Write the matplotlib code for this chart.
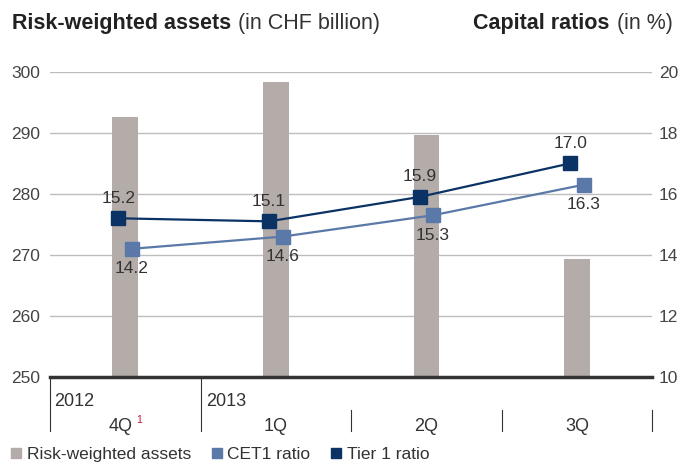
import matplotlib.pyplot as plt
from matplotlib.lines import Line2D
import matplotlib.transforms as mtransforms

plt.rcParams['font.family'] = ['Liberation Sans', 'DejaVu Sans']

quarters = ['4Q', '1Q', '2Q', '3Q']
years = ['2012', '2013']
rwa = [292.6, 298.3, 289.6, 269.3]
cet1 = [14.2, 14.6, 15.3, 16.3]
tier1 = [15.2, 15.1, 15.9, 17.0]

bar_color = '#b3aca8'
cet1_color = '#5b79a8'
tier1_color = '#0b3264'
text_color = '#333333'

fig = plt.figure(figsize=(6.85, 4.67), dpi=100)
ax = fig.add_axes([0.073, 0.193, 0.879, 0.653])
ax2 = ax.twinx()

x = list(range(len(quarters)))
ax.bar(x, rwa, width=0.17, color=bar_color, zorder=2)
ax.set_ylim(250, 300)
ax.set_xlim(-0.5, 3.5)
ax.set_yticks([250, 260, 270, 280, 290, 300])
ax.yaxis.grid(True, color='#bdbdbd', linewidth=1.0, zorder=0)
ax.set_axisbelow(True)
ax.set_xticks([])
for s in ['top', 'right', 'left']:
    ax.spines[s].set_visible(False)
ax.spines['bottom'].set_linewidth(2.5)
ax.spines['bottom'].set_color('#333333')
ax.spines['bottom'].set_zorder(5)
ax.tick_params(axis='y', length=0, pad=7, labelsize=12.5, labelcolor='#444444')

ax2.set_ylim(10, 20)
ax2.set_yticks([10, 12, 14, 16, 18, 20])
for s in ['top', 'right', 'left', 'bottom']:
    ax2.spines[s].set_visible(False)
ax2.tick_params(axis='y', length=0, pad=5, labelsize=12.5, labelcolor='#444444')

# ratio lines, shifted a little either side of the bar
off = 0.045
xt = [i - off for i in x]
xc = [i + off for i in x]
ax2.plot(xc, cet1, color=cet1_color, lw=1.6, marker='s', ms=10, zorder=3)
ax2.plot(xt, tier1, color=tier1_color, lw=1.6, marker='s', ms=10, zorder=4)
for xi, v in zip(xt, tier1):
    ax2.annotate(f'{v:.1f}', (xi, v), xytext=(0, 9), textcoords='offset points',
                 ha='center', va='bottom', fontsize=12.5, color=text_color)
for xi, v in zip(xc, cet1):
    ax2.annotate(f'{v:.1f}', (xi, v), xytext=(0, -9), textcoords='offset points',
                 ha='center', va='top', fontsize=12.5, color=text_color)

# category table below the axis
trans = mtransforms.blended_transform_factory(ax.transData, ax.transAxes)
for xv in [-0.5, 0.5]:
    ax.add_line(Line2D([xv, xv], [0, -0.177], transform=trans, color='#333333', lw=0.8, clip_on=False))
for xv in [1.5, 2.5, 3.5]:
    ax.add_line(Line2D([xv, xv], [-0.108, -0.177], transform=trans, color='#333333', lw=0.8, clip_on=False))
ax.text(-0.47, -0.082, years[0], transform=trans, ha='left', va='center', fontsize=13, color=text_color)
ax.text(0.535, -0.082, years[1], transform=trans, ha='left', va='center', fontsize=13, color=text_color)
for xi, q in zip(x, quarters):
    xpos = xi - 0.03 if xi == 0 else xi
    ax.text(xpos, -0.164, q, transform=trans, ha='center', va='center', fontsize=13, color=text_color)
ax.text(0.075, -0.141, '1', transform=trans, ha='left', va='center', fontsize=7.5, color='#c0143c')

# titles
t1 = fig.text(0.017, 0.949, 'Risk-weighted assets', fontsize=15.5, fontweight='bold',
              color='#222222', va='center')
ax.annotate('(in CHF billion)', xy=(1, 0.5), xycoords=t1, xytext=(5, 0), textcoords='offset points',
            fontsize=15.5, color='#333333', va='center', ha='left', annotation_clip=False)
t3 = fig.text(0.982, 0.949, '(in %)', fontsize=15.5, color='#333333', va='center', ha='right')
ax.annotate('Capital ratios', xy=(0, 0.5), xycoords=t3, xytext=(-5, 0), textcoords='offset points',
            fontsize=15.5, fontweight='bold', color='#222222', va='center', ha='right',
            annotation_clip=False)

handles = [
    Line2D([], [], ls='none', marker='s', ms=6.5, color=bar_color),
    Line2D([], [], ls='none', marker='s', ms=6.5, color=cet1_color),
    Line2D([], [], ls='none', marker='s', ms=6.5, color=tier1_color),
]
fig.legend(handles, ['Risk-weighted assets', 'CET1 ratio', 'Tier 1 ratio'], loc='lower left',
           bbox_to_anchor=(-0.012, -0.022), ncol=3, frameon=False, fontsize=12.5, handletextpad=0.1,
           columnspacing=1.0, handlelength=1.0, labelcolor=text_color)

fig.savefig('out.png', dpi=100)
